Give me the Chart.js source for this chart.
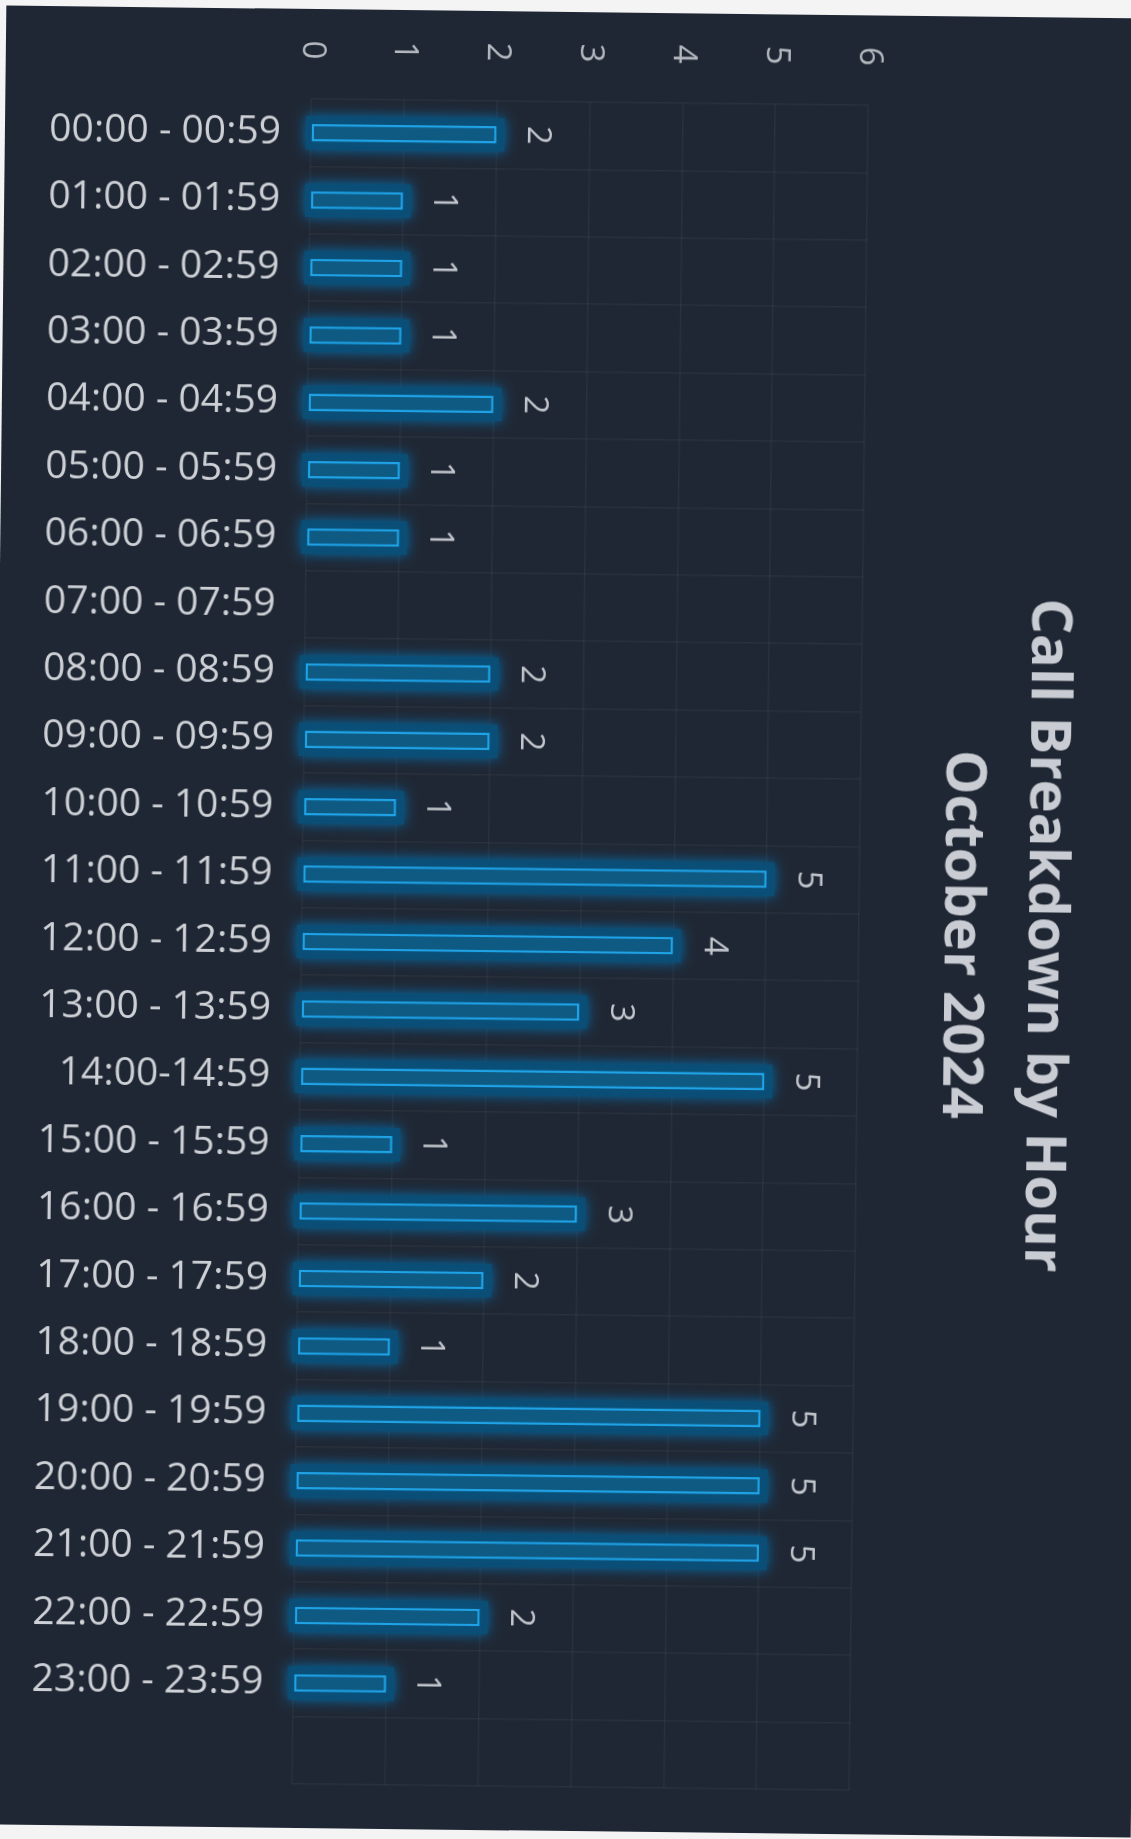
<!DOCTYPE html>
<html>
<head>
<meta charset="utf-8">
<title>Call Breakdown by Hour</title>
<script src="https://cdn.jsdelivr.net/npm/chart.js@4"></script>
<style>
    html, body { margin: 0; padding: 0; background: #f4f4f4; overflow: hidden; }
    body { width: 1131px; height: 1839px; position: relative; }
    #sheet {
        position: absolute;
        left: -4px;
        top: 12px;
        width: 1145px;
        height: 1819px;
        background: #1f2734;
        transform: rotate(0.65deg);
    }
    #callChart { display: block; }
</style>
</head>
<body>
<div id="sheet">
    <canvas id="callChart" width="1145" height="1819"></canvas>
</div>
<script>
// hourly call counts, blank slot at the end keeps the empty last grid row
const hourRanges = [
    '00:00 - 00:59', '01:00 - 01:59', '02:00 - 02:59', '03:00 - 03:59',
    '04:00 - 04:59', '05:00 - 05:59', '06:00 - 06:59', '07:00 - 07:59',
    '08:00 - 08:59', '09:00 - 09:59', '10:00 - 10:59', '11:00 - 11:59',
    '12:00 - 12:59', '13:00 - 13:59', '14:00-14:59', '15:00 - 15:59',
    '16:00 - 16:59', '17:00 - 17:59', '18:00 - 18:59', '19:00 - 19:59',
    '20:00 - 20:59', '21:00 - 21:59', '22:00 - 22:59', '23:00 - 23:59', ''
];
const callCounts = [2, 1, 1, 1, 2, 1, 1, null, 2, 2, 1, 5, 4, 3, 5, 1, 3, 2, 1, 5, 5, 5, 2, 1, null];
const countTicks = [0, 1, 2, 3, 4, 5, 6];
const titleLines = ['Call Breakdown by Hour', 'October 2024'];

const FONT = "'Open Sans', 'DejaVu Sans', sans-serif";

// soft blue halo behind each bar
const barGlow = {
    id: 'barGlow',
    beforeDatasetsDraw(chart) {
        const ctx = chart.ctx;
        const meta = chart.getDatasetMeta(0);
        ctx.save();
        ctx.shadowColor = 'rgba(0, 120, 190, 0.9)';
        ctx.shadowBlur = 13;
        ctx.fillStyle = 'rgba(10, 78, 118, 0.95)';
        meta.data.forEach((bar, i) => {
            if (callCounts[i] == null) return;
            const p = bar.getProps(['x', 'y', 'base', 'height'], true);
            ctx.fillRect(p.base - 6, p.y - p.height / 2 - 8, p.x - p.base + 14, p.height + 16);
        });
        ctx.restore();
    }
};

// rotated count ticks along the top, rotated value labels, rotated title
const sideText = {
    id: 'sideText',
    afterDraw(chart) {
        const ctx = chart.ctx;
        const xScale = chart.scales.x;
        const meta = chart.getDatasetMeta(0);

        const rotText = (text, x, y, font, color) => {
            ctx.save();
            ctx.translate(x, y);
            ctx.rotate(Math.PI / 2);
            ctx.font = font;
            ctx.fillStyle = color;
            ctx.textAlign = 'center';
            ctx.textBaseline = 'middle';
            ctx.fillText(text, 0, 0);
            ctx.restore();
        };

        countTicks.forEach(v => {
            rotText(String(v), xScale.getPixelForValue(v), 41, '33px ' + FONT, '#b4b8bf');
        });

        meta.data.forEach((bar, i) => {
            const v = callCounts[i];
            if (v == null) return;
            rotText(String(v), bar.x + 41, bar.y, '33px ' + FONT, '#c2c6cc');
        });

        const midY = 918;
        rotText(titleLines[0], 1049, midY, 'bold 56px ' + FONT, '#c9ccd2');
        rotText(titleLines[1], 965, midY, 'bold 56px ' + FONT, '#c9ccd2');
    }
};

const chart = new Chart(document.getElementById('callChart').getContext('2d'), {
    type: 'bar',
    data: {
        labels: hourRanges,
        datasets: [{
            label: 'Calls',
            data: callCounts,
            backgroundColor: '#0f5a82',
            borderColor: '#1fa3e6',
            borderWidth: 2.5,
            borderSkipped: false,
            categoryPercentage: 1,
            barPercentage: 0.26
        }]
    },
    options: {
        indexAxis: 'y',
        responsive: false,
        animation: false,
        layout: {
            padding: { top: 0, right: 282, bottom: 44, left: 0 }
        },
        plugins: {
            legend: { display: false },
            tooltip: { enabled: false }
        },
        scales: {
            x: {
                position: 'top',
                min: 0,
                max: 6,
                ticks: { display: false, stepSize: 1 },
                grid: {
                    color: 'rgba(255, 255, 255, 0.045)',
                    lineWidth: 1.5,
                    drawTicks: false
                },
                border: { display: false },
                afterFit(scale) { scale.height = 90; }
            },
            y: {
                ticks: {
                    color: '#cdd0d5',
                    font: { family: FONT, size: 39 },
                    padding: 30,
                    autoSkip: false
                },
                grid: {
                    color: 'rgba(255, 255, 255, 0.045)',
                    lineWidth: 1.5,
                    drawTicks: false
                },
                border: { display: false },
                afterFit(scale) {
                    scale.width = 306;
                    // labels sit inside their rows, no extra room needed above/below
                    scale.paddingTop = 0;
                    scale.paddingBottom = 0;
                }
            }
        }
    },
    plugins: [barGlow, sideText]
});
</script>
</body>
</html>
